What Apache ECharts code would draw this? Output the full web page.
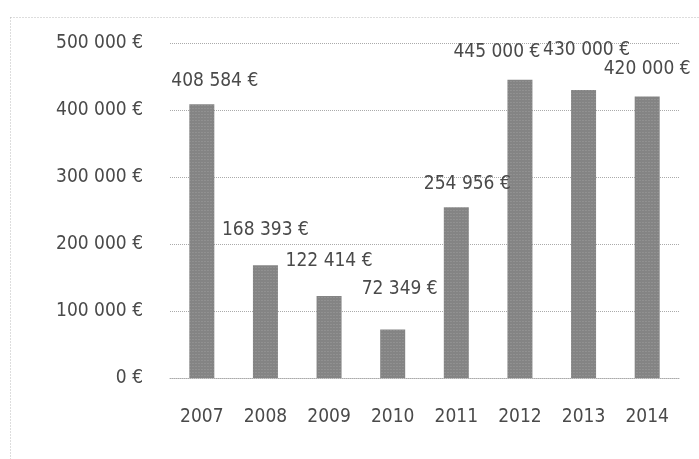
<!DOCTYPE html>
<html>
<head>
<meta charset="utf-8">
<script src="https://cdn.jsdelivr.net/npm/echarts@6/dist/echarts.min.js"></script>
<style>
  html, body { margin: 0; padding: 0; background: #fff; }
  #chart { width: 699px; height: 459px; }
</style>
</head>
<body>
<div id="chart"></div>
<script>
const years = ["2007", "2008", "2009", "2010", "2011", "2012", "2013", "2014"];
const amounts = [408584, 168393, 122414, 72349, 254956, 445000, 430000, 420000];
const yTicks = [0, 100000, 200000, 300000, 400000, 500000];

// label nudges [dx, dy] so the labels sit where the scan has them
const labelNudge = [[13, 4], [0, -8], [0, -7], [7, -13], [11, 4], [-23, 0], [3, -12], [0, 0]];

function euro(v) {
  return String(v).replace(/\B(?=(\d{3})+(?!\d))/g, " ") + " €";
}

const chart = echarts.init(document.getElementById("chart"));
chart.setOption({
  backgroundColor: "#fff",
  animation: false,
  textStyle: { fontFamily: "DejaVu Sans Condensed" },
  grid: { left: 170, right: 20, top: 43, bottom: 81 },
  xAxis: {
    type: "category",
    data: years,
    axisTick: { show: false },
    axisLine: { lineStyle: { color: "#aaa", type: "dotted", width: 1 } },
    axisLabel: { color: "#4a4a4a", fontSize: 19, margin: 30 }
  },
  yAxis: {
    type: "value",
    min: yTicks[0],
    max: yTicks[yTicks.length - 1],
    interval: 100000,
    axisLine: { show: false },
    axisTick: { show: false },
    splitLine: { lineStyle: { color: "#aaa", type: "dotted" } },
    axisLabel: { color: "#4a4a4a", fontSize: 19, margin: 27, formatter: euro }
  },
  graphic: [{
    type: "rect",
    left: 8, top: 15,
    shape: { width: 700, height: 460 },
    style: { fill: "none", stroke: "#bbb", lineDash: [1, 2], lineWidth: 1 }
  }],
  series: [{
    type: "bar",
    barWidth: 25,
    data: amounts.map((v, i) => ({
      value: v,
      label: { offset: labelNudge[i] }
    })),
    itemStyle: {
      color: "#848484",
      decal: {
        symbol: "rect",
        symbolSize: 0.6,
        color: "rgba(255,255,255,0.35)",
        dashArrayX: [2, 1],
        dashArrayY: [1, 2],
        rotation: 0
      }
    },
    label: {
      show: true,
      position: "top",
      distance: 18,
      color: "#4a4a4a",
      fontSize: 19,
      formatter: p => euro(p.value)
    }
  }]
});
</script>
</body>
</html>
